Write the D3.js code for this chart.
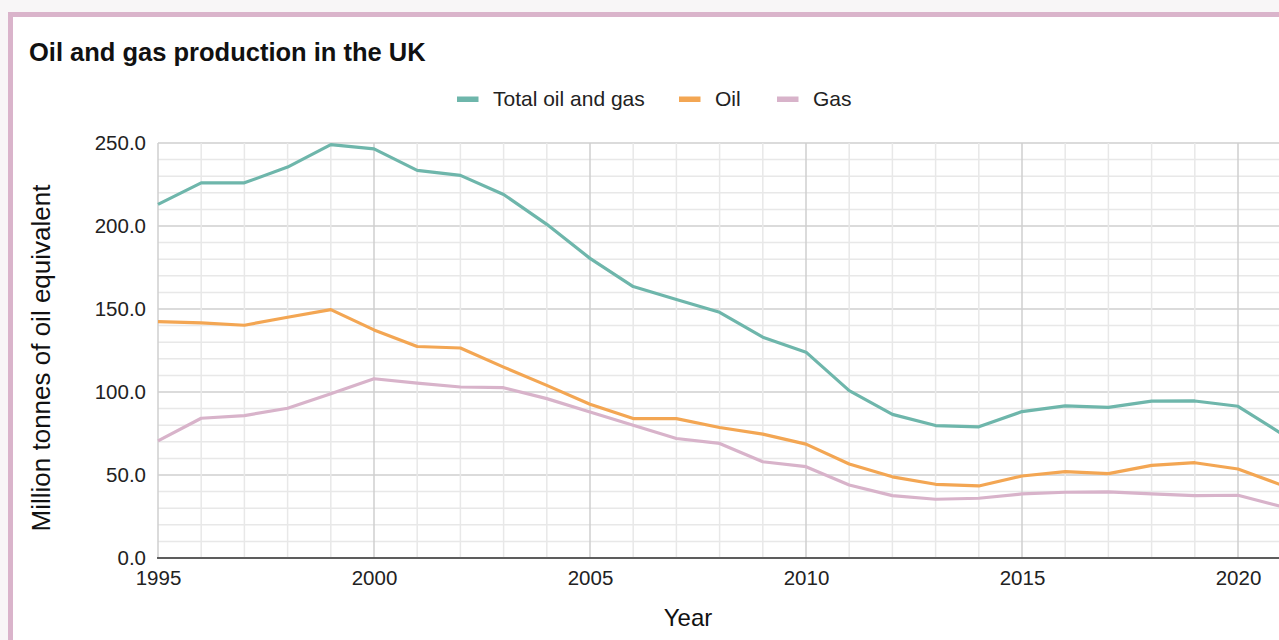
<!DOCTYPE html>
<html lang="en">
<head>
  <meta charset="UTF-8">
  <title>Oil and gas production in the UK</title>
  <script src="https://d3js.org/d3.v7.min.js"></script>
  <style>
    body {
      margin: 0;
      background: #f8f6f7;
      overflow: hidden;
      font-family: "Liberation Sans", Arial, sans-serif;
    }
  </style>
</head>
<body>
  <svg id="chart" width="1279" height="640"></svg>

  <script>
    // values (million tonnes of oil equivalent)
    const years = [1995, 1996, 1997, 1998, 1999, 2000, 2001, 2002, 2003, 2004, 2005, 2006, 2007,
      2008, 2009, 2010, 2011, 2012, 2013, 2014, 2015, 2016, 2017, 2018, 2019, 2020, 2021];
    const total = [213, 226, 226, 235.5, 249, 246.5, 233.5, 230.5, 219, 201, 180.5, 163.5, 155.7,
      148, 133, 124, 100.8, 86.5, 79.8, 79, 88.2, 91.6, 90.7, 94.5, 94.6, 91.4, 75];
    const oil = [142.4, 141.6, 140.2, 145, 149.6, 137.4, 127.4, 126.5, 115, 104, 92.6, 84, 84,
      78.6, 74.6, 68.6, 56.6, 48.9, 44.4, 43.4, 49.4, 52, 50.8, 55.8, 57.4, 53.6, 44];
    const gas = [70.6, 84.2, 85.8, 90.2, 99, 108, 105.4, 103, 102.6, 96, 88, 80, 72,
      69, 58, 55, 44, 37.6, 35.4, 36, 38.6, 39.6, 39.8, 38.6, 37.6, 37.8, 31];

    const seriesNames = ["Total oil and gas", "Oil", "Gas"];
    const seriesColors = ["#6eb6ab", "#f3a653", "#d8b3ca"];
    const xTickLabels = [1995, 2000, 2005, 2010, 2015, 2020];
    const yTickLabels = [0, 50, 100, 150, 200, 250];

    const series = [total, oil, gas].map((vals, i) => ({
      name: seriesNames[i],
      color: seriesColors[i],
      points: years.map((yr, j) => ({ year: yr, value: vals[j] }))
    }));

    const svg = d3.select("#chart");

    // card with pink border (runs off the right/bottom of the viewport)
    svg.append("rect")
      .attr("x", 10.5).attr("y", 14.5)
      .attr("width", 1400).attr("height", 700)
      .attr("fill", "#fff")
      .attr("stroke", "#dab4cb")
      .attr("stroke-width", 5);

    const x = d3.scaleLinear().domain([1995, 2021]).range([158, 1281.2]);
    const y = d3.scaleLinear().domain([0, 250]).range([558, 143]);
    const xEnd = 1300;

    // grid
    const grid = svg.append("g");
    grid.selectAll("line.h")
      .data(d3.range(0, 251, 10))
      .join("line")
      .attr("x1", x(1995)).attr("x2", xEnd)
      .attr("y1", d => y(d)).attr("y2", d => y(d))
      .attr("stroke", d => d % 50 === 0 ? "#cfcfcf" : "#e8e8e8")
      .attr("stroke-width", 1.5);
    grid.selectAll("line.v")
      .data(years)
      .join("line")
      .attr("x1", d => x(d)).attr("x2", d => x(d))
      .attr("y1", y(250)).attr("y2", y(0))
      .attr("stroke", d => d % 5 === 0 ? "#cfcfcf" : "#e8e8e8")
      .attr("stroke-width", 1.5);

    // axes
    const xAxis = svg.append("g")
      .attr("transform", `translate(0,${y(0)})`)
      .call(d3.axisBottom(x).tickValues(xTickLabels).tickSize(0).tickPadding(12).tickFormat(d3.format("d")));
    xAxis.select(".domain").attr("d", `M${x(1995) - 1},0H${xEnd}`).attr("stroke", "#333").attr("stroke-width", 1.6);
    xAxis.selectAll("text")
      .attr("font-size", 20.5)
      .attr("font-family", "Liberation Sans, Arial, sans-serif")
      .attr("fill", "#222");

    const yAxis = svg.append("g")
      .attr("transform", `translate(${x(1995)},0)`)
      .call(d3.axisLeft(y).tickValues(yTickLabels).tickSize(0).tickPadding(12).tickFormat(d3.format(".1f")));
    yAxis.select(".domain").remove();
    yAxis.selectAll("text")
      .attr("font-size", 20.5)
      .attr("font-family", "Liberation Sans, Arial, sans-serif")
      .attr("fill", "#222");

    // lines
    const line = d3.line()
      .x(d => x(d.year))
      .y(d => y(d.value));

    svg.append("g")
      .selectAll("path")
      .data(series.slice().reverse())
      .join("path")
      .attr("d", d => line(d.points))
      .attr("fill", "none")
      .attr("stroke", d => d.color)
      .attr("stroke-width", 3.2)
      .attr("stroke-linejoin", "round");

    // title
    svg.append("text")
      .attr("x", 29).attr("y", 61)
      .attr("font-size", 25.5)
      .attr("font-weight", "bold")
      .attr("fill", "#111")
      .text("Oil and gas production in the UK");

    // legend
    const legendX = [457, 679, 777];
    const legend = svg.append("g");
    const item = legend.selectAll("g")
      .data(series)
      .join("g")
      .attr("transform", (d, i) => `translate(${legendX[i]},0)`);
    item.append("rect")
      .attr("x", 0).attr("y", 96.5)
      .attr("width", 21.5).attr("height", 5.5)
      .attr("fill", d => d.color);
    item.append("text")
      .attr("x", 36).attr("y", 106)
      .attr("font-size", 21)
      .attr("fill", "#222")
      .text(d => d.name);

    // axis titles
    svg.append("text")
      .attr("transform", "translate(50,358) rotate(-90)")
      .attr("text-anchor", "middle")
      .attr("font-size", 26)
      .attr("fill", "#111")
      .text("Million tonnes of oil equivalent");

    svg.append("text")
      .attr("x", 688).attr("y", 626)
      .attr("text-anchor", "middle")
      .attr("font-size", 24)
      .attr("fill", "#111")
      .text("Year");
  </script>
</body>
</html>
